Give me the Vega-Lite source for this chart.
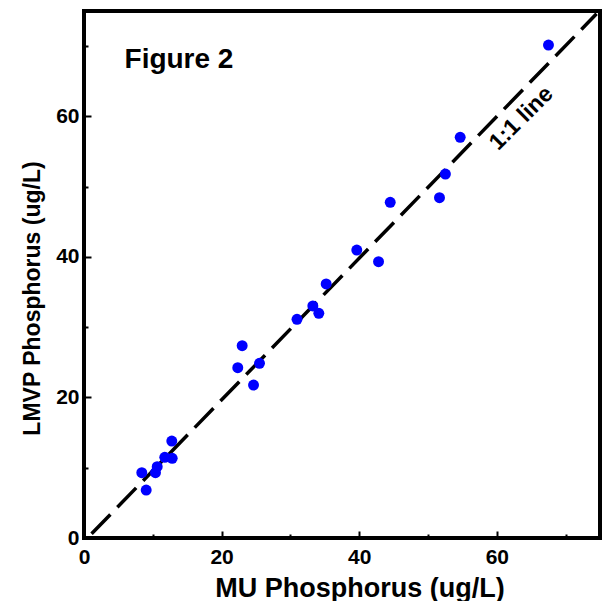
{
  "$schema": "https://vega.github.io/schema/vega-lite/v6.json",
  "width": 516,
  "height": 527,
  "autosize": {"type": "none"},
  "padding": {"left": 84, "top": 11, "right": 8, "bottom": 63},
  "background": "white",
  "config": {
    "view": {"stroke": "black", "strokeWidth": 4},
    "axis": {
      "labelFont": "Liberation Sans", "labelFontWeight": "bold", "labelFontSize": 21, "labelColor": "black", "labelFlush": false,
      "titleFont": "Liberation Sans", "titleFontWeight": "bold", "titleFontSize": 27, "titleColor": "black",
      "tickColor": "black", "tickWidth": 2, "domain": false, "grid": false
    }
  },
  "datasets": {
    "pts": [
      {"mu": 8.40, "lmvp": 9.29}, {"mu": 9.04, "lmvp": 6.83}, {"mu": 10.39, "lmvp": 9.29}, {"mu": 10.64, "lmvp": 10.15},
      {"mu": 11.74, "lmvp": 11.48}, {"mu": 12.82, "lmvp": 11.34}, {"mu": 12.76, "lmvp": 13.80}, {"mu": 22.35, "lmvp": 24.24},
      {"mu": 22.99, "lmvp": 27.37}, {"mu": 25.51, "lmvp": 24.86}, {"mu": 24.64, "lmvp": 21.77}, {"mu": 30.96, "lmvp": 31.12},
      {"mu": 33.26, "lmvp": 33.02}, {"mu": 34.13, "lmvp": 31.98}, {"mu": 35.20, "lmvp": 36.15}, {"mu": 39.65, "lmvp": 40.98},
      {"mu": 42.81, "lmvp": 39.32}, {"mu": 44.51, "lmvp": 47.77}, {"mu": 51.67, "lmvp": 48.43}, {"mu": 52.53, "lmvp": 51.80},
      {"mu": 54.68, "lmvp": 57.02}, {"mu": 67.51, "lmvp": 70.16}
    ],
    "line": [{"mu": 1.1, "lmvp": 0.6}, {"mu": 74.5, "lmvp": 74.6}],
    "labels": [
      {"mu": 5.89, "lmvp": 66.9, "text": "Figure 2", "kind": "fig"},
      {"mu": 63.55, "lmvp": 59.73, "text": "1:1 line", "kind": "line"}
    ]
  },
  "layer": [
    {
      "data": {"name": "line"},
      "mark": {"type": "line", "color": "black", "strokeWidth": 3.5, "strokeDash": [27, 10], "clip": true},
      "encoding": {
        "x": {"field": "mu", "type": "quantitative", "scale": {"domain": [0, 75], "nice": false, "zero": false},
              "axis": {"orient": "bottom", "values": [0, 20, 40, 60], "tickSize": -7, "labelPadding": 15, "title": "MU Phosphorus (ug/L)", "titleX": 275.5, "titleAlign": "center", "titleY": 58, "titleBaseline": "alphabetic"}},
        "y": {"field": "lmvp", "type": "quantitative", "scale": {"domain": [0, 75], "nice": false, "zero": false},
              "axis": {"orient": "left", "values": [0, 20, 40, 60], "tickSize": -7, "labelPadding": 12, "title": "LMVP Phosphorus (ug/L)", "titleFontSize": 23, "titleX": -44.5, "titleY": 287, "titleAlign": "center", "titleBaseline": "alphabetic"}}
      }
    },
    {
      "data": {"name": "pts"},
      "mark": {"type": "circle", "color": "#0000FF", "size": 120, "opacity": 1},
      "encoding": {
        "x": {"field": "mu", "type": "quantitative", "axis": {"orient": "bottom", "values": [10, 30, 50, 70], "labels": false, "tickSize": -4, "title": null}},
        "y": {"field": "lmvp", "type": "quantitative", "axis": {"orient": "left", "values": [10, 30, 50, 70], "labels": false, "tickSize": -4, "title": null}}
      }
    },
    {
      "data": {"name": "labels"},
      "transform": [{"filter": "datum.kind === 'fig'"}],
      "mark": {"type": "text", "font": "Liberation Sans", "fontWeight": "bold", "fontSize": 28, "align": "left", "baseline": "alphabetic", "color": "black"},
      "encoding": {
        "x": {"field": "mu", "type": "quantitative", "axis": null},
        "y": {"field": "lmvp", "type": "quantitative", "axis": null},
        "text": {"field": "text"}
      }
    },
    {
      "data": {"name": "labels"},
      "transform": [{"filter": "datum.kind === 'line'"}],
      "mark": {"type": "text", "font": "Liberation Sans", "fontWeight": "bold", "fontSize": 23, "align": "center", "baseline": "middle", "angle": -45, "color": "black"},
      "encoding": {
        "x": {"field": "mu", "type": "quantitative", "axis": null},
        "y": {"field": "lmvp", "type": "quantitative", "axis": null},
        "text": {"field": "text"}
      }
    }
  ],
  "resolve": {"axis": {"x": "independent", "y": "independent"}}
}
